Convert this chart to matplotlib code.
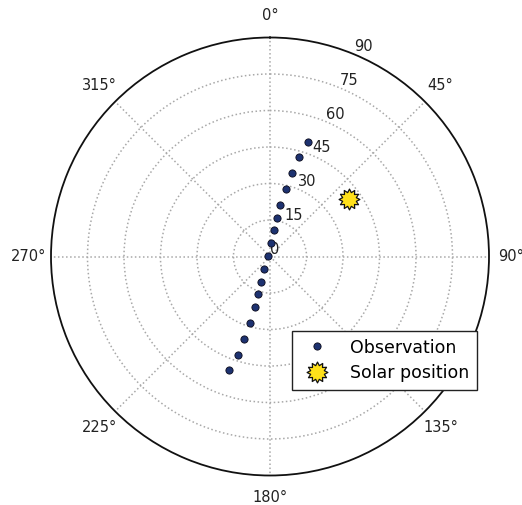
import numpy as np
import matplotlib
matplotlib.use("Agg")
import matplotlib.pyplot as plt
from matplotlib.path import Path

# Observed directions: azimuth (deg, clockwise from north) and zenith angle (deg)
obs_azimuth = [18.5, 16.3, 14.5, 13.1, 11.2, 10.4, 7.9, 2.9, 282.0,
               204.0, 199.2, 197.6, 196.5, 196.8, 197.6, 198.2, 199.8]
obs_zenith = [49.7, 42.5, 35.6, 28.5, 21.7, 16.0, 11.0, 5.7, 1.0,
              5.8, 11.2, 16.3, 21.8, 28.4, 35.4, 42.5, 49.7]

# Sun direction
sun_azimuth = [54.2]
sun_zenith = [40.2]

theta_ticks = [0, 45, 90, 135, 180, 225, 270, 315]
theta_labels = ["0°", "45°", "90°", "135°", "180°", "225°", "270°", "315°"]
r_ticks = [0, 15, 30, 45, 60, 75, 90]
r_labels = ["0", "15", "30", "45", "60", "75", "90"]

W, H = 522, 505
fig = plt.figure(figsize=(W / 100, H / 100), dpi=100)
ax = fig.add_axes([51 / W, 29.5 / H, 438 / W, 438 / H], projection="polar")
ax.set_theta_zero_location("N")
ax.set_theta_direction(-1)
ax.set_ylim(0, 90)

ax.set_xticks(np.deg2rad(theta_ticks))
ax.set_xticklabels(theta_labels, fontsize=10.5, color="#222222")
ax.tick_params(axis="x", pad=5.5)
ax.set_yticks(r_ticks[1:-1])
ax.set_yticklabels([])
ax.grid(True, color="#a8a8a8", linestyle=":", linewidth=1.1)
ax.spines["polar"].set_color("#111111")
ax.spines["polar"].set_linewidth(1.3)

# Radial labels along the 22.5 degree direction
for r, lab in zip(r_ticks, r_labels):
    ax.text(np.deg2rad(22.5), r, lab, ha="left", va="bottom",
            fontsize=10.5, color="#222222")

ax.plot(np.deg2rad(obs_azimuth), obs_zenith, linestyle="none", marker="o",
        markersize=5.2, markerfacecolor="#1d3270", markeredgecolor="#0a0a1a",
        markeredgewidth=0.6, label="Observation", zorder=5)

sun_marker = Path.unit_regular_star(12, 0.68)
ax.plot(np.deg2rad(sun_azimuth), sun_zenith, linestyle="none", marker=sun_marker,
        markersize=15, markerfacecolor="#ffe01a", markeredgecolor="#111111",
        markeredgewidth=0.9, label="Solar position", zorder=6)

leg = ax.legend(loc="upper left", bbox_to_anchor=(292.3 / W, 1 - 330.7 / H),
                bbox_transform=fig.transFigure, borderaxespad=0, numpoints=1,
                fancybox=False, framealpha=1, edgecolor="#222222",
                fontsize=12.5, handlelength=2.0, handletextpad=0.85,
                borderpad=0.45, labelspacing=0.45)
leg.get_frame().set_linewidth(1.0)

fig.savefig("out.png", dpi=100)
